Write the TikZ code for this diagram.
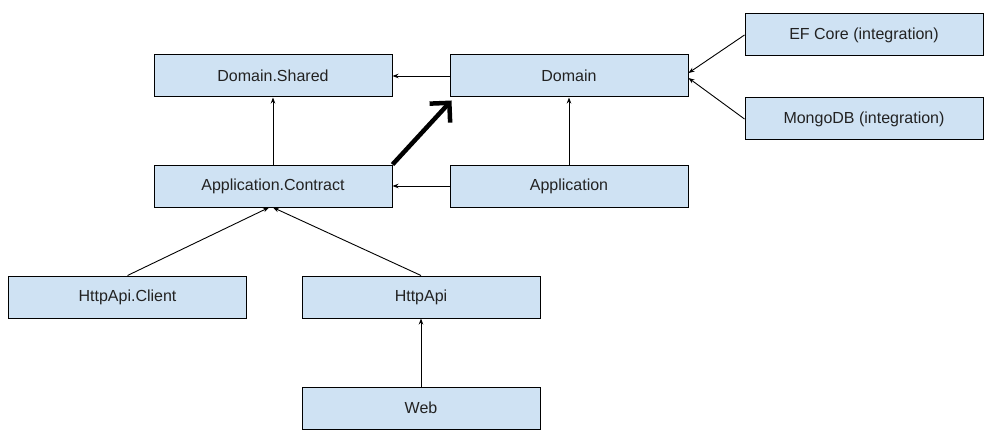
\documentclass[tikz,border=0pt]{standalone}
\usepackage{fontspec}
\setmainfont{Liberation Sans}
\usetikzlibrary{arrows.meta}
\definecolor{boxfill}{HTML}{CFE2F3}
\definecolor{txt}{HTML}{222222}
\begin{document}
\begin{tikzpicture}[x=1pt,y=-1pt,
  box/.style={draw=black,fill=boxfill,line width=1pt,minimum width=238pt,minimum height=42pt,inner sep=0pt,text=txt,font=\fontsize{16}{19}\selectfont},
  dep/.style={line width=0.9pt,-{Stealth[length=6pt,width=4.5pt]}},
  bigdep/.style={line width=4.5pt,line join=miter,-{Straight Barb[length=14pt,width=28pt]}}]
\useasboundingbox (0,0) rectangle (993,441);
\node[box] (ds) at (273,76) {Domain.Shared};
\node[box] (dom) at (569,76) {Domain};
\node[box] (ef) at (864,35) {EF Core (integration)};
\node[box] (mongo) at (864,119) {MongoDB (integration)};
\node[box] (ac) at (273,186) {Application.Contract};
\node[box] (app) at (569,186) {Application};
\node[box] (hc) at (127.5,297) {HttpApi.Client};
\node[box] (ha) at (421,297) {HttpApi};
\node[box] (web) at (421,408) {Web};
\draw[dep] (dom.west) -- (ds.east);
\draw[dep] (app.west) -- (ac.east);
\draw[dep] (ac.north) -- (ds.south);
\draw[dep] (app.north) -- (dom.south);
\draw[dep] (ef.west) -- ([yshift=3pt]dom.east);
\draw[dep] (mongo.west) -- ([yshift=-2pt]dom.east);
\draw[dep] (hc.north) -- ([xshift=-4pt]ac.south);
\draw[dep] (ha.north) -- (ac.south);
\draw[dep] (web.north) -- (ha.south);
\draw[bigdep] (ac.north east) -- ([xshift=2pt,yshift=-3pt]dom.south west);
\end{tikzpicture}
\end{document}
